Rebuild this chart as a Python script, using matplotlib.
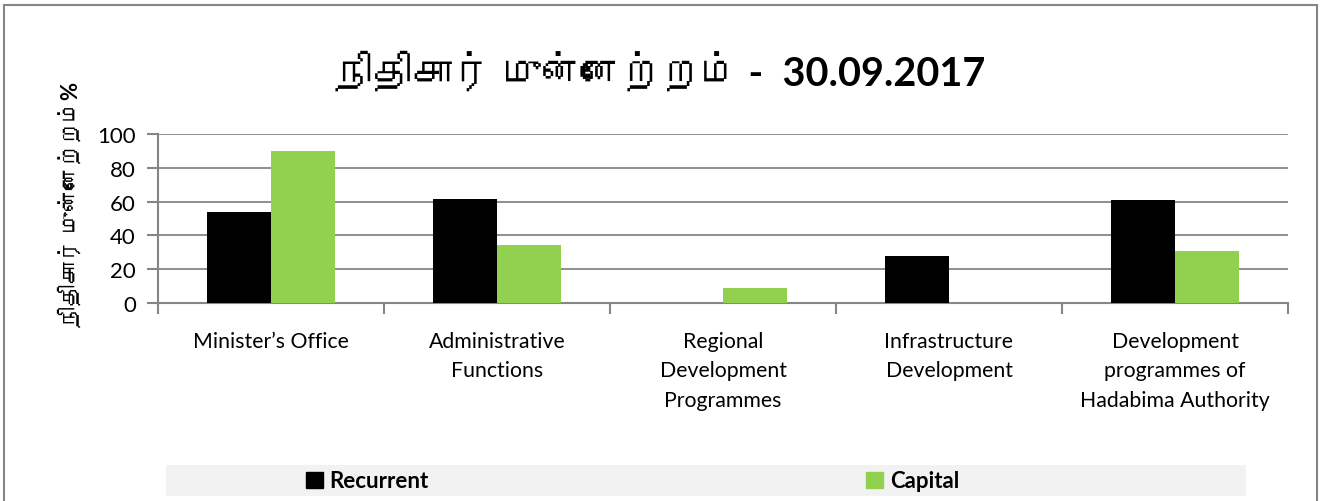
import numpy as np
import matplotlib
matplotlib.use('Agg')
from matplotlib import pyplot as plt
from matplotlib import font_manager as fm
from matplotlib.patches import Rectangle, Patch

categories = ['Minister\u2019s Office', 'Administrative\nFunctions',
              'Regional\nDevelopment\nProgrammes', 'Infrastructure\nDevelopment',
              'Development\nprogrammes of\nHadabima Authority']
recurrent = [54.0, 61.7, 0.0, 28.0, 60.8]
capital = [89.7, 34.3, 9.1, 0.0, 30.6]
series_names = ['Recurrent', 'Capital']
yticks = [0, 20, 40, 60, 80, 100]
title_text = 'நிதிசார் முன்னேற்றம் -  30.09.2017'
ylabel_text = 'நிதிசார் முன்னேற்றம்%'

# look for installed fonts that have Tamil glyphs, prefer proportional ones
def find_tamil():
    try:
        from fontTools.ttLib import TTFont
    except Exception:
        return []
    found = []
    for f in fm.fontManager.ttflist:
        try:
            tt = TTFont(f.fname, fontNumber=0, lazy=True)
            cmap = tt.getBestCmap()
            if cmap and 0x0BA8 in cmap and f.name not in found:
                found.append(f.name)
        except Exception:
            pass
    found.sort(key=lambda n: ('mono' in n.lower(), 'serif' in n.lower()))
    return found

tamil = find_tamil()
fam = ['Lato', 'DejaVu Sans']
tfam = ['Lato'] + tamil[:1] + ['DejaVu Sans']
plt.rcParams['font.family'] = fam

grey = '#868686'
fig = plt.figure(figsize=(13.31, 5.02), dpi=100)
fig.patch.set_facecolor('white')

# outer chart border
fig.add_artist(Rectangle((4/1331, -0.1), 1313/1331, 1.1 - 6/502, transform=fig.transFigure,
                         fill=False, edgecolor=grey, lw=1.5))

ax = fig.add_axes([158/1331, 1 - 304/502, 1130/1331, 169/502])
x = np.arange(len(categories))
w = 0.285
ax.bar(x - w/2, recurrent, w, color='#000000', zorder=3)
ax.bar(x + w/2, capital, w, color='#92d050', zorder=3)

ax.set_xlim(-0.5, len(categories) - 0.5)
ax.set_ylim(0, 100)
ax.set_yticks(yticks)
ax.set_yticklabels([str(v) for v in yticks], fontsize=16)
ax.set_xticks(x)
ax.set_xticklabels(categories, fontsize=15.3, linespacing=1.6, va='top')
ax.set_xticks(np.arange(-0.5, len(categories)), minor=True)
ax.tick_params(axis='x', which='major', length=0, pad=20)
ax.tick_params(axis='x', which='minor', length=8, color=grey, width=1.5)
ax.tick_params(axis='y', length=8, color=grey, width=1.5, pad=8)
ax.grid(axis='y', color=grey, lw=1.3, zorder=0)
for s in ['top', 'right']:
    ax.spines[s].set_visible(False)
for s in ['left', 'bottom']:
    ax.spines[s].set_color(grey)
    ax.spines[s].set_linewidth(1.5)

fig.text(0.495, 1 - 72/502, title_text, ha='center', va='center', fontsize=28.5,
         fontweight='bold', family=tfam)
fig.text(70/1331, 1 - 205/502, ylabel_text, ha='center', va='center', rotation=90,
         fontsize=16, fontweight='bold', family=tfam)

# legend background strip
fig.add_artist(Rectangle((166/1331, 5/502), 1080/1331, 31/502, transform=fig.transFigure,
                         facecolor='#f2f2f2', edgecolor='none'))
handles = [Patch(color='#000000'), Patch(color='#92d050')]
fig.legend(handles, series_names, loc='center left', bbox_to_anchor=(286/1331, 20/502),
           ncol=2, frameon=False, prop={'weight': 'bold', 'size': 16},
           handlelength=0.75, handleheight=0.75, handletextpad=0.3, columnspacing=19.7)

fig.savefig('out.png', dpi=100)
